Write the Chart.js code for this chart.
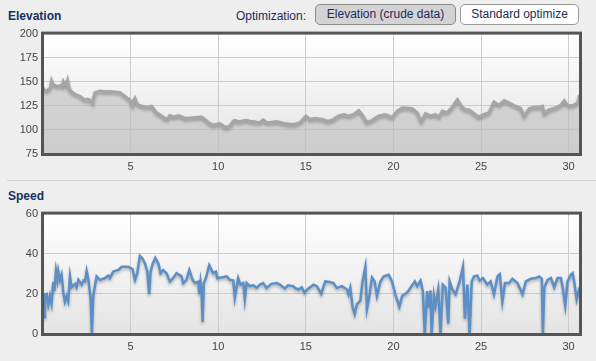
<!DOCTYPE html>
<html>
<head>
    <title>Elevation and Speed</title>
    <script src="https://cdn.jsdelivr.net/npm/chart.js"></script>
    <style>
        body { margin: 0; background: #eeeeee; font-family: Arial, "Liberation Sans", sans-serif; width: 596px; height: 361px; overflow: hidden; position: relative; }
        .title { position: absolute; left: 8px; font-size: 12px; font-weight: bold; color: #15305e; }
        .opt { position: absolute; left: 236px; top: 9px; font-size: 12px; color: #1c2a5c; }
        .btn { position: absolute; top: 4px; height: 19px; border-radius: 5px; font-size: 12px; color: #1c2a5c; text-align: center; line-height: 19px; box-sizing: content-box; }
        #btnCrude { left: 315px; width: 139px; background: #d3d3d3; border: 1px solid #8a8a8a; }
        #btnStd { left: 460px; width: 117px; background: #ffffff; border: 1px solid #9a9a9a; }
        .sep { position: absolute; left: 7px; top: 180px; width: 589px; height: 1px; background: #d4d4d4; }
        canvas { position: absolute; left: 0; }
    </style>
</head>
<body>
    <div class="title" style="top: 9px;">Elevation</div>
    <div class="opt">Optimization:</div>
    <div class="btn" id="btnCrude">Elevation (crude data)</div>
    <div class="btn" id="btnStd">Standard optimize</div>
    <canvas id="elevChart" width="596" height="154" style="top: 22px;"></canvas>
    <div class="sep"></div>
    <div class="title" style="top: 189px;">Speed</div>
    <canvas id="speedChart" width="596" height="154" style="top: 202px;"></canvas>

    <script>
        // distance ticks shared by both charts
        const xTicks = [5, 10, 15, 20, 25, 30];
        const xMax = 30.65;

        // elevation profile (km, m)
        const elevKm = [
            0, 0.1, 0.21, 0.32, 0.4, 0.49, 0.58, 0.68, 0.78, 0.87,
            0.95, 1.03, 1.1, 1.16, 1.24, 1.31, 1.36, 1.41, 1.5, 1.6,
            1.83, 2.11, 2.25, 2.4, 2.55, 2.68, 2.76, 2.83, 2.9, 2.97,
            3.25, 3.5, 3.82, 4.1, 4.39, 4.68, 4.96, 5.05, 5.11, 5.18,
            5.25, 5.35, 5.44, 5.7, 5.91, 6.2, 6.35, 6.48, 6.7, 6.86,
            7.05, 7.15, 7.24, 7.4, 7.53, 7.7, 7.81, 8.1, 8.4, 8.67,
            9.05, 9.24, 9.5, 9.71, 9.9, 10.1, 10.3, 10.48, 10.67, 10.85,
            10.95, 11.1, 11.24, 11.45, 11.62, 11.8, 12.0, 12.2, 12.38, 12.57,
            12.76, 13.05, 13.33, 13.5, 13.71, 13.9, 14.09, 14.39, 14.68, 15.0,
            15.25, 15.53, 15.92, 16.3, 16.58, 16.87, 17.16, 17.44, 17.73, 18.02,
            18.21, 18.49, 18.78, 19.16, 19.54, 19.92, 20.21, 20.5, 21.07, 21.36,
            21.6, 21.83, 22.12, 22.4, 22.6, 22.79, 23.07, 23.36, 23.65, 23.93,
            24.12, 24.31, 24.6, 24.85, 25.17, 25.46, 25.74, 26.03, 26.32, 26.6,
            26.98, 27.27, 27.46, 27.75, 28.03, 28.32, 28.51, 28.61, 28.89, 29.27,
            29.56, 29.75, 29.94, 30.23, 30.52, 30.62
        ];
        const elevM = [
            144, 141, 140.5, 142, 142.5, 151, 147, 146.6, 145, 145.6,
            146, 146.6, 145, 150, 147, 149, 147, 151, 143, 140,
            137, 135, 133, 131, 132, 131, 130, 128, 134, 139,
            140.5, 140, 140, 139.5, 139, 135, 131, 129, 126, 131,
            133, 128, 126, 124.5, 123.6, 124.6, 121, 118, 115.5, 113.5,
            111, 113, 115, 114, 113.5, 115, 114.5, 112, 112.5, 113,
            113.5, 111, 107, 105, 106, 106.6, 104, 102.7, 104, 109,
            110, 109, 108.8, 109.5, 110, 109, 108.8, 108, 107.8, 110.5,
            107.8, 108, 108.8, 108, 107, 106.5, 106, 106, 107.8, 114.5,
            111, 112, 111, 108.8, 111, 114.5, 116, 114.5, 116, 120,
            116, 107.8, 110, 114.5, 116, 113, 119.6, 123, 122.3, 118,
            108.8, 117, 114.5, 116, 113.5, 119.6, 118, 123.6, 131.4, 123.6,
            121, 121, 117, 113.5, 116, 118, 129, 125.7, 130.4, 128,
            124.6, 122.3, 114.5, 122.3, 123.6, 123.6, 124.6, 117, 121, 123,
            125.7, 130.4, 125.7, 125.3, 128, 136.5
        ];
        const elevTicks = [75, 100, 125, 150, 175, 200];

        // speed profile (km, km/h)
        const speedKm = [
            0, 0.06, 0.11, 0.21, 0.3, 0.4, 0.49, 0.59, 0.65, 0.74,
            0.82, 0.87, 0.97, 1.06, 1.16, 1.25, 1.35, 1.44, 1.54, 1.63,
            1.83, 1.92, 2.02, 2.21, 2.3, 2.4, 2.49, 2.59, 2.72, 2.79,
            2.87, 3.06, 3.25, 3.54, 3.73, 3.82, 4.01, 4.3, 4.49, 4.87,
            5.11, 5.25, 5.38, 5.53, 5.68, 5.82, 5.95, 6.06, 6.14, 6.25,
            6.41, 6.58, 6.71, 6.86, 7.05, 7.24, 7.43, 7.62, 7.91, 8.0,
            8.19, 8.35, 8.54, 8.67, 8.86, 8.92, 8.99, 9.05, 9.11, 9.18,
            9.3, 9.49, 9.71, 9.87, 9.94, 10.19, 10.48, 10.67, 10.86, 10.95,
            11.14, 11.27, 11.43, 11.52, 11.62, 11.81, 12.0, 12.19, 12.38, 12.57,
            12.76, 13.04, 13.33, 13.52, 13.8, 13.99, 14.28, 14.39, 14.58, 14.77,
            14.92, 15.15, 15.44, 15.63, 15.88, 16.11, 16.3, 16.58, 16.77, 17.06,
            17.35, 17.44, 17.54, 17.67, 17.79, 17.92, 18.11, 18.24, 18.4, 18.49,
            18.63, 18.78, 18.93, 19.06, 19.26, 19.45, 19.73, 19.92, 20.11, 20.34,
            20.5, 20.78, 20.97, 21.22, 21.36, 21.55, 21.68, 21.79, 21.93, 22.02,
            22.12, 22.18, 22.31, 22.4, 22.56, 22.69, 22.82, 22.98, 23.13, 23.21,
            23.36, 23.55, 23.78, 23.97, 24.08, 24.22, 24.35, 24.47, 24.6, 24.79,
            24.92, 25.11, 25.36, 25.55, 25.74, 25.94, 26.07, 26.22, 26.37, 26.6,
            26.79, 27.08, 27.37, 27.56, 27.84, 28.13, 28.32, 28.47, 28.53, 28.61,
            28.8, 28.99, 29.18, 29.37, 29.56, 29.66, 29.81, 29.94, 30.13, 30.23,
            30.32, 30.46, 30.57, 30.65
        ];
        const speedKmh = [
            10, 8.4, 19.8, 20, 14.6, 19, 15.2, 26, 21.4, 31.4,
            27, 31.4, 27, 29.5, 20.6, 16.2, 19, 16.5, 28.7, 23.3,
            25, 23.3, 27, 24.6, 26.6, 26.2, 31.4, 27, 17.8, 0,
            19, 28.7, 27, 27.9, 29.1, 27.9, 31.1, 31.9, 33.5, 33.5,
            32.4, 27, 30.3, 38.9, 37.6, 35.1, 31.4, 19.8, 31.1, 34.7,
            37.9, 35.1, 30.3, 31.9, 30.3, 26.2, 27.9, 30.3, 28.7, 25.4,
            27, 31.9, 27, 25.4, 26, 19.8, 26, 21.7, 6, 25.4,
            27.9, 34.3, 30.3, 31.1, 27.9, 28.2, 28.7, 27, 26.6, 18.1,
            27.9, 24.6, 25.4, 17.3, 25.4, 23.8, 24.3, 23, 24.6, 25.4,
            23, 25, 25.4, 24.6, 22.7, 24.3, 23.8, 23, 22.2, 23.3,
            20.6, 22.7, 24.6, 23.8, 20.1, 26.2, 26, 25.4, 23, 23.8,
            22.2, 19.8, 23, 13.3, 10, 14.9, 16.5, 26.2, 33.5, 12.5,
            19, 28.2, 26.2, 19, 26.2, 28.7, 29.5, 26.2, 19.8, 13.6,
            19, 20.6, 23, 26.2, 23.8, 26.6, 21.4, 0, 21.4, 13.3,
            21.7, 0, 19, 14.1, 22.2, 0, 24.6, 23, 5.2, 26.2,
            22.2, 19.8, 26.2, 33.5, 7.6, 24.6, 0, 26.2, 28.7, 29.1,
            26.6, 27.9, 24.6, 26.2, 19.8, 28.7, 29.8, 16.2, 25.4, 25.4,
            27.5, 25.4, 19.8, 26.2, 27.5, 27.9, 28.7, 27.5, 0, 23,
            27, 27.9, 23.3, 27.9, 27.9, 23.3, 14.1, 26.2, 29.5, 30.3,
            26, 17.3, 21.4, 19
        ];
        const speedTicks = [0, 20, 40, 60];

        // plot background, frame and line shadow
        const framePlugin = {
            id: 'frame',
            beforeDraw(chart) {
                const { ctx, chartArea: a } = chart;
                const g = ctx.createLinearGradient(0, a.top, 0, a.bottom);
                g.addColorStop(0, '#ffffff');
                g.addColorStop(1, '#e4e4e4');
                ctx.save();
                ctx.fillStyle = g;
                ctx.fillRect(a.left, a.top, a.right - a.left, a.bottom - a.top);
                ctx.restore();
            },
            beforeDatasetDraw(chart) {
                const ctx = chart.ctx;
                ctx.save();
                ctx.shadowColor = 'rgba(0,0,0,0.28)';
                ctx.shadowBlur = 3;
                ctx.shadowOffsetY = 2;
            },
            afterDatasetDraw(chart) {
                chart.ctx.restore();
            },
            afterDraw(chart) {
                const { ctx, chartArea: a } = chart;
                ctx.save();
                ctx.strokeStyle = '#555555';
                ctx.lineWidth = 3;
                ctx.strokeRect(a.left - 0.5, a.top - 0.5, a.right - a.left + 1, a.bottom - a.top + 1);
                ctx.restore();
            }
        };

        function makeOptions(yTicks) {
            return {
                responsive: false,
                animation: false,
                layout: { padding: { top: 9, right: 16, left: 0, bottom: 0 } },
                plugins: { legend: { display: false }, tooltip: { enabled: false } },
                elements: { point: { radius: 0 }, line: { tension: 0 } },
                scales: {
                    x: {
                        type: 'linear',
                        min: 0,
                        max: xMax,
                        border: { display: false },
                        grid: { color: '#cccccc', drawTicks: false },
                        afterBuildTicks: s => { s.ticks = xTicks.map(v => ({ value: v })); },
                        afterFit: s => { s.height = 22; },
                        ticks: { padding: 6, maxRotation: 0, autoSkip: false, color: '#444444', font: { size: 11, family: 'Arial' } }
                    },
                    y: {
                        min: yTicks[0],
                        max: yTicks[yTicks.length - 1],
                        border: { display: false },
                        grid: { color: '#cccccc', drawTicks: false },
                        afterBuildTicks: s => { s.ticks = yTicks.map(v => ({ value: v })); },
                        afterFit: s => { s.width = 43; },
                        ticks: { padding: 5, color: '#444444', font: { size: 11, family: 'Arial' } }
                    }
                }
            };
        }

        new Chart(document.getElementById('elevChart'), {
            type: 'line',
            data: {
                datasets: [{
                    data: elevKm.map((x, i) => ({ x: x, y: elevM[i] })),
                    borderColor: '#a6a6a6',
                    borderWidth: 3,
                    backgroundColor: 'rgba(185,185,185,0.55)',
                    fill: 'start'
                }]
            },
            options: makeOptions(elevTicks),
            plugins: [framePlugin]
        });

        new Chart(document.getElementById('speedChart'), {
            type: 'line',
            data: {
                datasets: [{
                    data: speedKm.map((x, i) => ({ x: x, y: speedKmh[i] })),
                    borderColor: '#5b8fc6',
                    borderWidth: 2.5,
                    fill: false
                }]
            },
            options: makeOptions(speedTicks),
            plugins: [framePlugin]
        });
    </script>
</body>
</html>
